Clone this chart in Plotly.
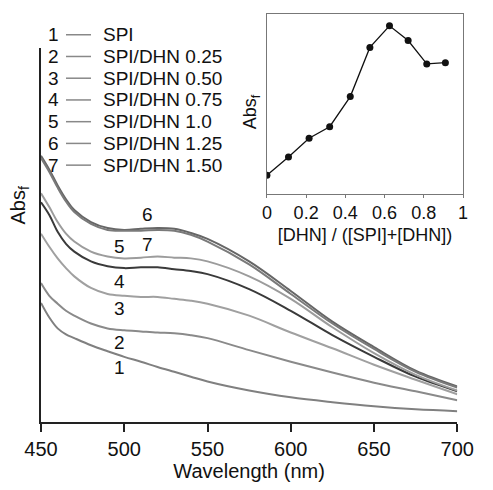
import plotly.graph_objects as go

# wavelength grid (nm) shared by all spectra
wavelength = [450, 455, 460, 465, 470, 480, 490, 500, 510, 520, 530, 540, 550,
              575, 600, 625, 650, 675, 700]

# absorbance (arbitrary units)
abs_spi = [0.318, 0.279, 0.250, 0.234, 0.224, 0.205, 0.189, 0.174, 0.161, 0.147,
           0.134, 0.121, 0.108, 0.084, 0.066, 0.053, 0.042, 0.034, 0.029]
abs_025 = [0.371, 0.337, 0.316, 0.297, 0.284, 0.263, 0.250, 0.245, 0.242, 0.239,
           0.237, 0.232, 0.224, 0.192, 0.161, 0.132, 0.105, 0.082, 0.058]
abs_050 = [0.503, 0.468, 0.437, 0.411, 0.389, 0.358, 0.342, 0.337, 0.334, 0.334,
           0.329, 0.324, 0.316, 0.284, 0.239, 0.197, 0.153, 0.113, 0.074]
abs_075 = [0.587, 0.553, 0.508, 0.476, 0.455, 0.429, 0.416, 0.411, 0.413, 0.413,
           0.408, 0.403, 0.395, 0.355, 0.297, 0.232, 0.174, 0.121, 0.082]
abs_100 = [0.611, 0.574, 0.534, 0.503, 0.482, 0.455, 0.442, 0.437, 0.439, 0.442,
           0.439, 0.437, 0.429, 0.389, 0.329, 0.253, 0.184, 0.126, 0.084]
abs_125 = [0.711, 0.674, 0.632, 0.595, 0.566, 0.534, 0.518, 0.513, 0.516, 0.518,
           0.516, 0.505, 0.489, 0.429, 0.350, 0.268, 0.200, 0.137, 0.095]
abs_150 = [0.705, 0.668, 0.626, 0.589, 0.561, 0.529, 0.513, 0.511, 0.511, 0.513,
           0.511, 0.500, 0.482, 0.421, 0.342, 0.263, 0.195, 0.134, 0.092]

series_names = ["SPI", "SPI/DHN 0.25", "SPI/DHN 0.50", "SPI/DHN 0.75",
                "SPI/DHN 1.0", "SPI/DHN 1.25", "SPI/DHN 1.50"]
series_values = [abs_spi, abs_025, abs_050, abs_075, abs_100, abs_125, abs_150]
series_colors = ["#808080", "#8a8a8a", "#a0a0a0", "#3a3a3a", "#9c9c9c", "#666666", "#7a7a7a"]

# curve number labels (wavelength, absorbance)
label_text = ["1", "2", "3", "4", "5", "6", "7"]
label_x = [497, 497, 497, 497, 497, 514, 514]
label_y = [0.145, 0.213, 0.303, 0.374, 0.468, 0.555, 0.474]

# inset: mole fraction vs Abs_f
dhn_fraction = [0, 0.11, 0.215, 0.32, 0.425, 0.525, 0.625, 0.72, 0.815, 0.91]
abs_f = [0.101, 0.203, 0.308, 0.372, 0.540, 0.814, 0.934, 0.852, 0.722, 0.729]

W, H = 493, 490
ML, MR, MT, MB = 41, 12, 14, 63
PW, PH = W - ML - MR, H - MT - MB


def px(x):
    return (x - ML) / PW


def py(y):
    return (H - MB - y) / PH


FONT = "Liberation Sans, Arial, sans-serif"
INK = "#111111"

fig = go.Figure()

for name, vals, col in zip(series_names, series_values, series_colors):
    fig.add_trace(go.Scatter(x=wavelength, y=vals, mode="lines", name=name,
                             line=dict(color=col, width=2, shape="spline"),
                             showlegend=False, xaxis="x", yaxis="y"))

fig.add_trace(go.Scatter(x=dhn_fraction, y=abs_f, mode="lines+markers",
                         line=dict(color="#111111", width=1.3),
                         marker=dict(color="#111111", size=7),
                         showlegend=False, xaxis="x2", yaxis="y2"))

annotations = []
for t, x, y in zip(label_text, label_x, label_y):
    annotations.append(dict(x=x, y=y, xref="x", yref="y", text=t, showarrow=False,
                            xanchor="center", yanchor="middle",
                            font=dict(size=19, color=INK, family=FONT)))

# hand-made legend: number, short line, name
shapes = []
row_y = [35, 57, 79, 101, 123, 145, 167]
for i, (name, yy) in enumerate(zip(series_names, row_y)):
    annotations.append(dict(x=px(62), y=py(yy), xref="paper", yref="paper",
                            text=str(i + 1), showarrow=False, xanchor="right", yanchor="middle",
                            font=dict(size=19, color=INK, family=FONT)))
    annotations.append(dict(x=px(103), y=py(yy), xref="paper", yref="paper",
                            text=name, showarrow=False, xanchor="left", yanchor="middle",
                            font=dict(size=19, color=INK, family=FONT)))
    shapes.append(dict(type="line", xref="paper", yref="paper",
                       x0=px(67), x1=px(93), y0=py(yy), y1=py(yy),
                       line=dict(color="#888888", width=1.5)))

annotations.append(dict(x=px(19), y=py(208), xref="paper", yref="paper",
                        text="Abs<sub>f</sub>", textangle=-90, showarrow=False,
                        xanchor="center", yanchor="middle",
                        font=dict(size=20, color=INK, family=FONT)))
annotations.append(dict(x=px(260), y=py(113), xref="paper", yref="paper",
                        text="Abs<sub>f</sub>", textangle=-90, showarrow=False,
                        xanchor="center", yanchor="middle",
                        font=dict(size=18, color=INK, family=FONT)))

fig.update_layout(
    width=W, height=H,
    margin=dict(l=ML, r=MR, t=MT, b=MB),
    paper_bgcolor="white", plot_bgcolor="rgba(0,0,0,0)",
    font=dict(family=FONT, color=INK),
    xaxis=dict(domain=[0, px(474)], range=[450, 700], tickvals=[450, 500, 550, 600, 650, 700],
               showline=True, linecolor="#222222", linewidth=1.5, ticks="outside",
               ticklen=8, tickwidth=1.5, tickcolor="#222222", showgrid=False, zeroline=False,
               tickfont=dict(size=20), title=dict(text="Wavelength (nm)", font=dict(size=20), standoff=4)),
    yaxis=dict(domain=[0, py(48)], range=[0, 1], showline=True, linecolor="#222222", linewidth=1.5,
               showticklabels=False, ticks="", showgrid=False, zeroline=False),
    xaxis2=dict(domain=[px(276), px(480)], range=[0, 1], anchor="y2",
                tickvals=[0, 0.2, 0.4, 0.6, 0.8, 1], ticktext=["0", "0.2", "0.4", "0.6", "0.8", "1"],
                showline=True, mirror=True, linecolor="#777777", linewidth=1, ticks="outside",
                ticklen=3, tickcolor="#777777", showgrid=False, zeroline=False, tickfont=dict(size=18),
                title=dict(text="[DHN] / ([SPI]+[DHN])", font=dict(size=18), standoff=6)),
    yaxis2=dict(domain=[py(195.7), 1], range=[0, 1], anchor="x2", showline=True, mirror=True,
                linecolor="#777777", linewidth=1, showticklabels=False, ticks="",
                showgrid=False, zeroline=False),
    annotations=annotations,
    shapes=shapes,
)

fig.write_html("out.html", config={"displayModeBar": False},
               post_script="document.body.style.margin='0px';"
                           "document.body.style.overflow='hidden';"
                           "document.documentElement.style.overflow='hidden';")
